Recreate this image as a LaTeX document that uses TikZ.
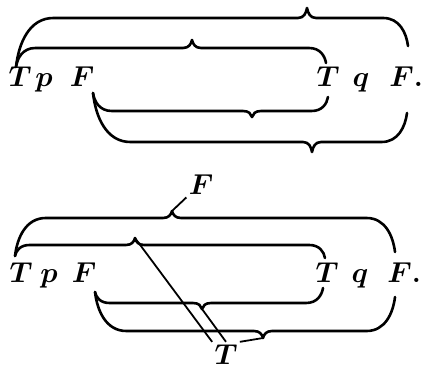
\documentclass[tikz,border=0pt]{standalone}
\usepackage{amsmath,amsfonts}

\tikzset{
  brace line/.style={line width=1.3pt, line cap=round, line join=round},
  word/.style={inner sep=1pt, anchor=base, font=\fontsize{14.5}{16}\selectfont},
}

% curly brace: left end, right end, tip, level of the long part
\newcommand{\pmbrace}[7]{%
  \pgfmathsetmacro{\curlL}{0.6*abs(#2-#7)+8}%
  \pgfmathsetmacro{\curlR}{0.6*abs(#4-#7)+8}%
  \draw[brace line] (#1,#2)
    .. controls ({#1+0.07*\curlL},{#2+0.48*(#7-#2)}) and ({#1+0.35*\curlL},#7) .. ({#1+\curlL},#7)
    -- ({#5-9},#7)
    .. controls ({#5-3},#7) and ({#5-1},{(#6+#7)/2}) .. (#5,#6)
    .. controls ({#5+1},{(#6+#7)/2}) and ({#5+3},#7) .. ({#5+9},#7)
    -- ({#3-\curlR},#7)
    .. controls ({#3-0.35*\curlR},#7) and ({#3-0.07*\curlR},{#4+0.48*(#7-#4)}) .. (#3,#4);
}

\begin{document}
\begin{tikzpicture}[x=0.5pt, y=-0.5pt]
            \useasboundingbox (0,0) rectangle (421,368);
            % First row of letters
            \node[word] (T1) at (20,87) {$\boldsymbol{T}$};
            \node[word] (p1) at (44,87) {$\boldsymbol{p}$};
            \node[word] (F1) at (82,87) {$\boldsymbol{F}$};
            \node[word] (T2) at (328,87) {$\boldsymbol{T}$};
            \node[word] (q1) at (361,87) {$\boldsymbol{q}$};
            \node[word, anchor=base west] (F2) at (387,87) {$\boldsymbol{F}$\textbf{.}};
            % Braces above and below
            \pmbrace{16}{67}{408}{46}{307}{8}{18}
            \pmbrace{16}{67}{326}{63}{192}{40}{48}
            \pmbrace{93}{93}{328}{97}{252}{117}{111}
            \pmbrace{93}{93}{407}{113}{312}{152}{142}
            % Second row of letters
            \node[word] (T3) at (21,282) {$\boldsymbol{T}$};
            \node[word] (p2) at (49,282) {$\boldsymbol{p}$};
            \node[word] (F3) at (84,282) {$\boldsymbol{F}$};
            \node[word] (T4) at (327,282) {$\boldsymbol{T}$};
            \node[word] (q2) at (360,282) {$\boldsymbol{q}$};
            \node[word, anchor=base west] (F4) at (385,282) {$\boldsymbol{F}$\textbf{.}};
            \pmbrace{15}{256}{395}{252}{172}{211}{218}
            \pmbrace{15}{256}{325}{258}{135}{238}{245}
            \pmbrace{95}{292}{323}{288}{202}{309}{303}
            \pmbrace{95}{292}{395}{297}{263}{338}{331}
            % Values of the braces
            \coordinate (tipA) at (172,211);
            \coordinate (tipB) at (135,238);
            \coordinate (tipC) at (202,309);
            \coordinate (tipD) at (263,338);
            \node[word] (lblF) at (201,195) {$\boldsymbol{F}$};
            \node[word] (lblT) at (226,364) {$\boldsymbol{T}$};
            \draw[line width=0.9pt] (tipA) -- (lblF.south west);
            \draw[line width=0.9pt] (tipB) -- (lblT.north west);
            \draw[line width=0.9pt] (tipC) -- (lblT.north);
            \draw[line width=0.9pt] (tipD) -- (lblT.north east);
        \end{tikzpicture}
\end{document}
